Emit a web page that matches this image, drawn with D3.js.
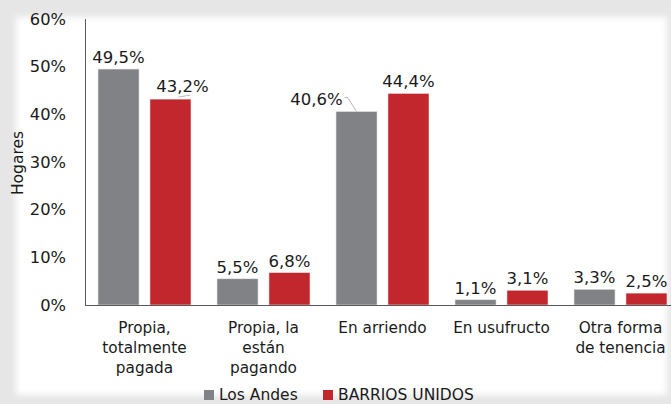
<!DOCTYPE html>
<html>
<head>
<meta charset="utf-8">
<script src="https://cdn.jsdelivr.net/npm/d3@7"></script>
<style>
  html, body { margin: 0; padding: 0; background: #e6e6e6; }
  svg { display: block; font-family: "DejaVu Sans", Verdana, sans-serif; }
</style>
</head>
<body>
<div id="chart"></div>
<script>
const categories = [
    ["Propia,", "totalmente", "pagada"],
    ["Propia, la", "están", "pagando"],
    ["En arriendo"],
    ["En usufructo"],
    ["Otra forma", "de tenencia"]
];
const seriesNames = ["Los Andes", "BARRIOS UNIDOS"];
const losAndes = [49.5, 5.5, 40.6, 1.1, 3.3];
const barriosUnidos = [43.2, 6.8, 44.4, 3.1, 2.5];
const yTicks = [0, 10, 20, 30, 40, 50, 60];

const colors = ["#808285", "#c1272d"];
const width = 671, height = 404;
const margin = { top: 19, left: 85, bottom: 99 };

const svg = d3.select("#chart").append("svg").attr("width", width).attr("height", height);

// panel with soft edges
const defs = svg.append("defs");
defs.append("filter").attr("id", "soft").attr("x", "-5%").attr("y", "-5%").attr("width", "110%").attr("height", "110%")
    .append("feGaussianBlur").attr("stdDeviation", 3);
svg.append("rect").attr("x", 16).attr("y", 17).attr("width", 651).attr("height", 378)
    .attr("fill", "#fff").attr("filter", "url(#soft)");
svg.append("rect").attr("x", 22).attr("y", 23).attr("width", 639).attr("height", 366).attr("fill", "#fff");

const x = d3.scaleBand().domain(d3.range(categories.length)).range([85, 680]).paddingInner(0).paddingOuter(0);
const x1 = d3.scaleBand().domain([0, 1]).range([13, 106]).paddingInner(0.21);
const y = d3.scaleLinear().domain([0, 60]).range([305, 19]);

// y axis
const yAxis = svg.append("g").attr("transform", `translate(${margin.left},0)`)
    .call(d3.axisLeft(y).tickValues(yTicks).tickSize(0).tickPadding(19).tickFormat(d => d + "%"));
yAxis.select(".domain").remove();
yAxis.selectAll("text").attr("font-size", 16.3).attr("fill", "#1a1a1a").attr("font-family", "DejaVu Sans, sans-serif");

svg.append("text").attr("transform", "translate(23,163) rotate(-90)")
    .attr("text-anchor", "middle").attr("font-size", 15.5).attr("fill", "#1a1a1a").text("Hogares");

// bars
const rows = categories.map((c, i) => ({ i, vals: [losAndes[i], barriosUnidos[i]] }));
const groups = svg.selectAll("g.grp").data(rows).join("g").attr("class", "grp")
    .attr("transform", d => `translate(${x(d.i)},0)`);

groups.selectAll("rect").data(d => d.vals.map((v, s) => ({ v, s, i: d.i })))
    .join("rect")
    .attr("x", d => x1(d.s))
    .attr("y", d => y(d.v))
    .attr("width", x1.bandwidth())
    .attr("height", d => y(0) - y(d.v))
    .attr("fill", d => colors[d.s])
    .attr("stroke", "#e8e8e8").attr("stroke-width", 0.6);

// value labels (two labels nudged with leader lines, as in the original)
const nudge = { "0-1": [12, -1], "2-0": [-40, 0] };
groups.each(function (d) {
    const g = d3.select(this);
    d.vals.forEach((v, s) => {
        const cx = x1(s) + x1.bandwidth() / 2;
        const top = y(v);
        const off = nudge[d.i + "-" + s] || [0, 0];
        const lx = cx + off[0], ly = top - 6 + off[1];
        g.append("text").attr("x", lx).attr("y", ly).attr("text-anchor", "middle")
            .attr("font-size", 16.5).attr("fill", "#1a1a1a")
            .text(d3.format(".1f")(v).replace(".", ",") + "%");
        if (off[0] > 0) {
            g.append("line").attr("x1", cx + 8).attr("y1", top - 2).attr("x2", cx + 20).attr("y2", top - 4)
                .attr("stroke", "#a6a6a6").attr("stroke-width", 0.8);
        } else if (off[0] < 0) {
            g.append("polyline").attr("points", `${cx - 12},${top - 14} ${cx - 9},${top - 14} ${cx},${top}`)
                .attr("fill", "none").attr("stroke", "#a6a6a6").attr("stroke-width", 0.8);
        }
    });
});

// axis lines
svg.append("line").attr("x1", 85).attr("x2", width).attr("y1", 305.5).attr("y2", 305.5)
    .attr("stroke", "#595959");
svg.append("line").attr("x1", 85.5).attr("x2", 85.5).attr("y1", 19).attr("y2", 305)
    .attr("stroke", "#595959");

groups.append("text").attr("text-anchor", "middle").attr("font-size", 15.3).attr("fill", "#1a1a1a")
    .selectAll("tspan").data(d => categories[d.i]).join("tspan")
    .attr("x", x.bandwidth() / 2).attr("y", (t, k) => 333 + k * 20).text(t => t);

// legend
const legend = svg.append("g");
const legendX = [204, 323];
seriesNames.forEach((name, s) => {
    legend.append("rect").attr("x", legendX[s]).attr("y", 390).attr("width", 10).attr("height", 10).attr("fill", colors[s]);
    legend.append("text").attr("x", legendX[s] + 15).attr("y", 400).attr("font-size", 15.5).attr("fill", "#1a1a1a").text(name);
});
</script>
</body>
</html>
